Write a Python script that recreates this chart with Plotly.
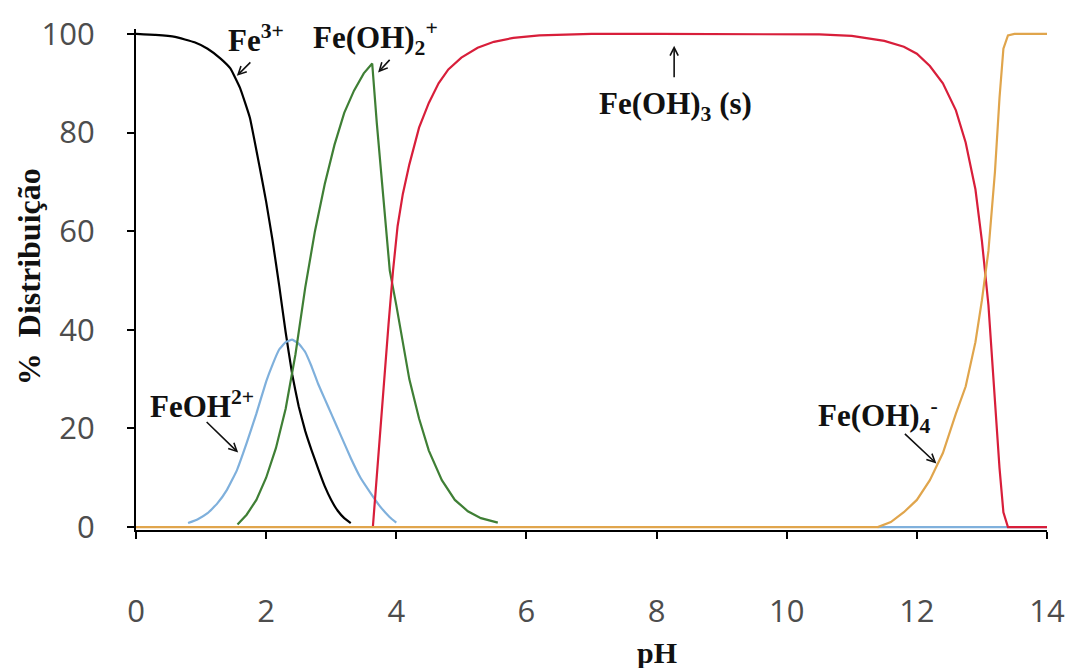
import plotly.graph_objects as go

# Iron(III) speciation vs pH (% distribution)
ph_fe3 = [0, 0.3, 0.6, 0.9, 1.1, 1.3, 1.45, 1.6, 1.75, 1.9, 2.0, 2.1, 2.2, 2.3, 2.4,
          2.5, 2.6, 2.7, 2.8, 2.9, 3.0, 3.1, 3.2, 3.3]
fe3 = [100, 99.8, 99.4, 98.3, 97, 95, 93, 89, 83, 73, 66, 58, 49, 39.5, 31,
       24.5, 19.5, 15.5, 11.8, 8.3, 5.5, 3.3, 1.8, 0.8]

ph_feoh = [0.8, 0.95, 1.1, 1.25, 1.4, 1.55, 1.7, 1.85, 2.0, 2.1, 2.2, 2.3, 2.4, 2.5,
           2.6, 2.7, 2.8, 2.9, 3.0, 3.15, 3.3, 3.45, 3.6, 3.75, 3.9, 4.0,
           None, 11.4, 14.0]
feoh = [0.8, 1.6, 2.8, 4.8, 7.6, 11.5, 17, 23, 29.5, 33, 36, 37.5, 38, 37.2,
        35.5, 32.5, 29, 26, 23, 18.5, 14, 10, 7, 4.2, 2.0, 0.9,
        None, 0, 0]

ph_feoh2 = [1.56, 1.7, 1.85, 2.0, 2.15, 2.3, 2.45, 2.6, 2.75, 2.9, 3.05, 3.2, 3.35,
            3.5, 3.63, 3.7, 3.8, 3.9, 4.0, 4.1, 4.2, 4.35, 4.5, 4.7, 4.9, 5.1,
            5.3, 5.56]
feoh2 = [0.5, 2.5, 5.5, 10, 16, 24, 35, 48.5, 60, 69.5, 77.5, 84, 88.5,
         92, 94, 82, 67, 52, 45, 37.5, 30, 22, 15.5, 9.5, 5.5, 3.2,
         1.8, 0.9]

ph_feoh3 = [3.64, 3.72, 3.8, 3.88, 3.95, 4.02, 4.1, 4.2, 4.35, 4.5, 4.65, 4.8, 5.0,
            5.25, 5.5, 5.8, 6.2, 6.6, 7.0, 8, 9, 10, 10.5, 11.0, 11.5, 11.8,
            12.0, 12.2, 12.4, 12.6, 12.75, 12.9, 13.0, 13.1, 13.2, 13.27, 13.33,
            13.4, 14.0]
feoh3 = [0, 14, 28, 41, 52, 61, 67.5, 73.5, 81, 86, 90, 92.8, 95.2,
         97.2, 98.4, 99.2, 99.7, 99.9, 100, 100, 100, 100, 99.9, 99.6, 98.6, 97.4,
         96, 93.5, 90, 84.5, 78, 68.5, 58, 45, 26, 12, 3,
         0, 0]

ph_feoh4 = [0, 11.4, 11.6, 11.8, 12.0, 12.2, 12.4, 12.6, 12.75, 12.9, 13.0, 13.1,
            13.2, 13.27, 13.33, 13.4, 13.5, 14.0]
feoh4 = [0, 0, 1, 3, 5.5, 9.5, 15, 23, 28.5, 37.5, 46, 56,
         72, 87, 97, 99.7, 100, 100]

x_ticks = [0, 2, 4, 6, 8, 10, 12, 14]
y_ticks = [0, 20, 40, 60, 80, 100]

# (x, y, colour, smooth)
series = [
    (ph_fe3, fe3, "#000000", True),
    (ph_feoh, feoh, "#7fb0dc", True),
    (ph_feoh2, feoh2, "#3f7f35", False),
    (ph_feoh3, feoh3, "#d81e3a", False),
    (ph_feoh4, feoh4, "#e0a54c", False),
]

fig = go.Figure()
for xs, ys, col, smooth in series:
    line = dict(color=col, width=2.2)
    if smooth:
        line.update(shape="spline", smoothing=0.3)
    fig.add_trace(go.Scatter(x=xs, y=ys, mode="lines", connectgaps=False,
                             line=line, showlegend=False, hoverinfo="skip"))

lab_font = dict(family="Liberation Serif", size=31, color="#111111")

labels = [
    ("<b>Fe<sup>3+</sup></b>", 1.84, 99.0),
    ("<b>Fe(OH)<sub>2</sub><sup>+</sup></b>", 3.68, 99.2),
    ("<b>Fe(OH)<sub>3</sub> (s)</b>", 8.29, 85.3),
    ("<b>FeOH<sup>2+</sup></b>", 1.01, 24.9),
    ("<b>Fe(OH)<sub>4</sub><sup>-</sup></b>", 11.4, 22.6),
]
for txt, xv, yv in labels:
    fig.add_annotation(x=xv, y=yv, text=txt, showarrow=False, font=lab_font,
                       xanchor="center", yanchor="middle")

# pointer arrows: (tip pH, tip %, tail dx px, tail dy px)
arrows = [
    (1.55, 91.5, 15, -15),
    (3.72, 92.2, 13, -14),
    (8.27, 97.6, 0, 33),
    (1.57, 15.1, -33, -32),
    (12.3, 12.9, -33, -31),
]
for xv, yv, dx, dy in arrows:
    fig.add_annotation(x=xv, y=yv, text="", showarrow=True, ax=dx, ay=dy,
                       arrowhead=5, arrowsize=1.0, arrowwidth=1.6,
                       arrowcolor="#111111", standoff=0)

fig.add_annotation(text="<b>pH</b>", xref="paper", yref="paper",
                   x=(658 - 136) / 912, y=-(653 - 530) / 505,
                   showarrow=False, font=dict(family="Liberation Serif", size=30, color="#111111"),
                   xanchor="center", yanchor="middle")
fig.add_annotation(text="<b>%  Distribuição</b>", xref="paper", yref="paper",
                   x=-(136 - 29) / 912, y=(530 - 275) / 505, textangle=-90,
                   showarrow=False, font=dict(family="Liberation Serif", size=32, color="#111111"),
                   xanchor="center", yanchor="middle")

tick_font = dict(family="Open Sans", size=31, color="#4d4d4d")
fig.update_xaxes(range=[0, 14], tickvals=x_ticks, ticks="outside", ticklen=7, tickwidth=2,
                 tickcolor="#000000", showline=True, linecolor="#000000", linewidth=2,
                 showgrid=False, zeroline=False, tickfont=tick_font, ticklabelstandoff=46)
fig.update_yaxes(range=[-0.6, 101], tickvals=y_ticks, ticks="outside", ticklen=7, tickwidth=2,
                 tickcolor="#000000", showline=True, linecolor="#000000", linewidth=2,
                 showgrid=False, zeroline=False, tickfont=tick_font, ticklabelstandoff=26)

fig.update_layout(width=1077, height=668,
                  margin=dict(l=136, r=29, t=25, b=138),
                  plot_bgcolor="white", paper_bgcolor="white")

fig.write_html("out.html")
